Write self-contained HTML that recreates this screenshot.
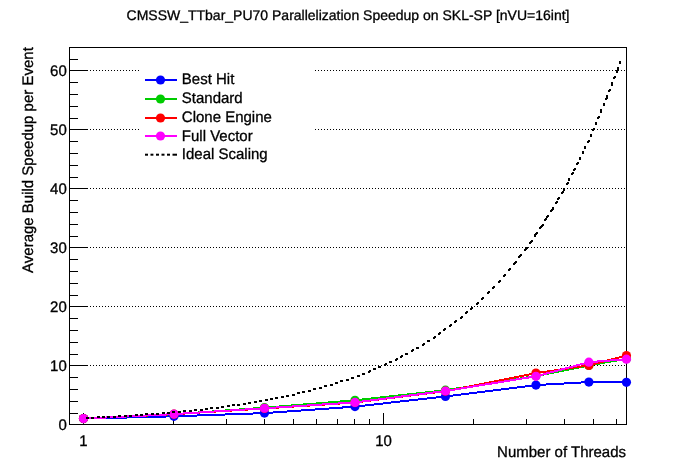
<!DOCTYPE html><html><head><meta charset="utf-8"><style>html,body{margin:0;padding:0;background:#fff;}svg{display:block;will-change:transform;}text{font-family:"Liberation Sans",Arial,sans-serif;fill:#000;text-rendering:geometricPrecision;stroke:#000;stroke-width:0.3px;}</style></head><body>
<svg width="696" height="472" viewBox="0 0 696 472">
<rect x="0" y="0" width="696" height="472" fill="#fff"/>
<g stroke="#000" stroke-width="1" stroke-dasharray="1 2" shape-rendering="crispEdges"><line x1="69" y1="365.5" x2="626" y2="365.5"/><line x1="69" y1="306.5" x2="626" y2="306.5"/><line x1="69" y1="247.5" x2="626" y2="247.5"/><line x1="69" y1="188.5" x2="626" y2="188.5"/><line x1="69" y1="129.5" x2="626" y2="129.5"/><line x1="69" y1="70.5" x2="626" y2="70.5"/></g>
<text x="348" y="19.5" font-size="14" text-anchor="middle">CMSSW_TTbar_PU70 Parallelization Speedup on SKL-SP [nVU=16int]</text>
<rect x="69.5" y="47.5" width="557" height="377" fill="none" stroke="#000" stroke-width="1" shape-rendering="crispEdges"/>
<g stroke="#000" stroke-width="1" shape-rendering="crispEdges"><line x1="70" y1="424.5" x2="88" y2="424.5"/><line x1="70" y1="413.5" x2="78" y2="413.5"/><line x1="70" y1="401.5" x2="78" y2="401.5"/><line x1="70" y1="389.5" x2="78" y2="389.5"/><line x1="70" y1="377.5" x2="78" y2="377.5"/><line x1="70" y1="365.5" x2="88" y2="365.5"/><line x1="70" y1="354.5" x2="78" y2="354.5"/><line x1="70" y1="342.5" x2="78" y2="342.5"/><line x1="70" y1="330.5" x2="78" y2="330.5"/><line x1="70" y1="318.5" x2="78" y2="318.5"/><line x1="70" y1="306.5" x2="88" y2="306.5"/><line x1="70" y1="295.5" x2="78" y2="295.5"/><line x1="70" y1="283.5" x2="78" y2="283.5"/><line x1="70" y1="271.5" x2="78" y2="271.5"/><line x1="70" y1="259.5" x2="78" y2="259.5"/><line x1="70" y1="247.5" x2="88" y2="247.5"/><line x1="70" y1="236.5" x2="78" y2="236.5"/><line x1="70" y1="224.5" x2="78" y2="224.5"/><line x1="70" y1="212.5" x2="78" y2="212.5"/><line x1="70" y1="200.5" x2="78" y2="200.5"/><line x1="70" y1="188.5" x2="88" y2="188.5"/><line x1="70" y1="177.5" x2="78" y2="177.5"/><line x1="70" y1="165.5" x2="78" y2="165.5"/><line x1="70" y1="153.5" x2="78" y2="153.5"/><line x1="70" y1="141.5" x2="78" y2="141.5"/><line x1="70" y1="129.5" x2="88" y2="129.5"/><line x1="70" y1="118.5" x2="78" y2="118.5"/><line x1="70" y1="106.5" x2="78" y2="106.5"/><line x1="70" y1="94.5" x2="78" y2="94.5"/><line x1="70" y1="82.5" x2="78" y2="82.5"/><line x1="70" y1="70.5" x2="88" y2="70.5"/><line x1="70" y1="59.5" x2="78" y2="59.5"/><line x1="83.5" y1="424" x2="83.5" y2="413"/><line x1="173.5" y1="424" x2="173.5" y2="419"/><line x1="226.5" y1="424" x2="226.5" y2="419"/><line x1="264.5" y1="424" x2="264.5" y2="419"/><line x1="293.5" y1="424" x2="293.5" y2="419"/><line x1="316.5" y1="424" x2="316.5" y2="419"/><line x1="337.5" y1="424" x2="337.5" y2="419"/><line x1="354.5" y1="424" x2="354.5" y2="419"/><line x1="369.5" y1="424" x2="369.5" y2="419"/><line x1="383.5" y1="424" x2="383.5" y2="413"/><line x1="473.5" y1="424" x2="473.5" y2="419"/><line x1="526.5" y1="424" x2="526.5" y2="419"/><line x1="564.5" y1="424" x2="564.5" y2="419"/><line x1="593.5" y1="424" x2="593.5" y2="419"/><line x1="616.5" y1="424" x2="616.5" y2="419"/></g>
<polyline points="83.50,418.60 173.99,416.30 264.48,413.11 354.97,406.62 445.46,396.42 535.95,385.09 588.88,382.08 626.44,382.31" fill="none" stroke="#0000ff" stroke-width="2" shape-rendering="crispEdges"/>
<g fill="#0000ff"><circle cx="83.50" cy="418.60" r="4.6"/><circle cx="173.99" cy="416.30" r="4.6"/><circle cx="264.48" cy="413.11" r="4.6"/><circle cx="354.97" cy="406.62" r="4.6"/><circle cx="445.46" cy="396.42" r="4.6"/><circle cx="535.95" cy="385.09" r="4.6"/><circle cx="588.88" cy="382.08" r="4.6"/><circle cx="626.44" cy="382.31" r="4.6"/></g>
<polyline points="83.50,418.60 173.99,414.23 264.48,407.69 354.97,400.31 445.46,390.22 535.95,376.00 588.88,365.50 626.44,358.71" fill="none" stroke="#00cc00" stroke-width="2" shape-rendering="crispEdges"/>
<g fill="#00cc00"><circle cx="83.50" cy="418.60" r="4.6"/><circle cx="173.99" cy="414.23" r="4.6"/><circle cx="264.48" cy="407.69" r="4.6"/><circle cx="354.97" cy="400.31" r="4.6"/><circle cx="445.46" cy="390.22" r="4.6"/><circle cx="535.95" cy="376.00" r="4.6"/><circle cx="588.88" cy="365.50" r="4.6"/><circle cx="626.44" cy="358.71" r="4.6"/></g>
<polyline points="83.50,418.60 173.99,414.18 264.48,408.45 354.97,402.55 445.46,391.17 535.95,373.11 588.88,365.38 626.44,355.59" fill="none" stroke="#ff0000" stroke-width="2" shape-rendering="crispEdges"/>
<g fill="#ff0000"><circle cx="83.50" cy="418.60" r="4.6"/><circle cx="173.99" cy="414.18" r="4.6"/><circle cx="264.48" cy="408.45" r="4.6"/><circle cx="354.97" cy="402.55" r="4.6"/><circle cx="445.46" cy="391.17" r="4.6"/><circle cx="535.95" cy="373.11" r="4.6"/><circle cx="588.88" cy="365.38" r="4.6"/><circle cx="626.44" cy="355.59" r="4.6"/></g>
<polyline points="83.50,418.60 173.99,414.12 264.48,408.27 354.97,402.38 445.46,390.99 535.95,376.30 588.88,362.20 626.44,359.19" fill="none" stroke="#ff00ff" stroke-width="2" shape-rendering="crispEdges"/>
<g fill="#ff00ff"><circle cx="83.50" cy="418.60" r="4.6"/><circle cx="173.99" cy="414.12" r="4.6"/><circle cx="264.48" cy="408.27" r="4.6"/><circle cx="354.97" cy="402.38" r="4.6"/><circle cx="445.46" cy="390.99" r="4.6"/><circle cx="535.95" cy="376.30" r="4.6"/><circle cx="588.88" cy="362.20" r="4.6"/><circle cx="626.44" cy="359.19" r="4.6"/></g>
<path d="M97 416h3v1h-3zM102 416h3v1h-3zM107 416h3v1h-3zM113 416h3v1h-3zM118 416h3v1h-3zM124 416h3v1h-3zM129 416h3v1h-3zM400 357h2v1h-2zM529 242h3v1h-3zM552 207h2v1h-2zM600 109h2v1h-2zM466 311h2v1h-2zM313 389h3v1h-3zM541 225h3v1h-3zM568 179h2v1h-2zM172 411h3v1h-3zM178 411h3v1h-3zM183 411h3v1h-3zM189 411h3v1h-3zM412 349h2v1h-2zM455 320h2v1h-2zM135 414h3v1h-3zM140 414h3v1h-3zM145 414h3v1h-3zM151 414h3v1h-3zM156 414h3v1h-3zM488 291h2v1h-2zM552 208h2v1h-2zM86 418h3v1h-3zM91 418h3v1h-3zM118 415h3v1h-3zM124 415h3v1h-3zM129 415h3v1h-3zM135 415h3v1h-3zM140 415h3v1h-3zM438 334h2v1h-2zM593 128h2v1h-2zM145 413h3v1h-3zM151 413h3v1h-3zM156 413h3v1h-3zM162 413h3v1h-3zM167 413h3v1h-3zM270 398h3v1h-3zM275 398h3v1h-3zM492 288h2v1h-2zM595 124h2v1h-2zM460 317h3v1h-3zM617 67h2v1h-2zM514 262h3v1h-3zM449 326h2v1h-2zM221 406h3v1h-3zM227 406h3v1h-3zM608 90h3v1h-3zM324 385h3v1h-3zM330 385h3v1h-3zM297 392h3v1h-3zM302 392h3v1h-3zM539 228h2v1h-2zM509 268h2v1h-2zM389 361h3v1h-3zM613 78h2v1h-2zM566 183h3v1h-3zM422 344h3v1h-3zM579 157h2v1h-2zM254 401h3v1h-3zM259 401h3v1h-3zM603 105h2v1h-2zM477 302h2v1h-2zM86 417h3v1h-3zM91 417h3v1h-3zM97 417h3v1h-3zM102 417h3v1h-3zM107 417h3v1h-3zM113 417h3v1h-3zM308 390h3v1h-3zM504 274h2v1h-2zM162 412h3v1h-3zM167 412h3v1h-3zM172 412h3v1h-3zM178 412h3v1h-3zM616 71h2v1h-2zM481 299h2v1h-2zM243 403h3v1h-3zM248 403h3v1h-3zM395 359h3v1h-3zM470 308h3v1h-3zM503 275h3v1h-3zM563 190h2v1h-2zM520 254h2v1h-2zM357 376h3v1h-3zM576 164h2v1h-2zM400 356h3v1h-3zM600 112h2v1h-2zM313 388h3v1h-3zM319 388h3v1h-3zM568 178h2v1h-2zM183 410h3v1h-3zM189 410h3v1h-3zM194 410h3v1h-3zM200 410h3v1h-3zM434 336h2v1h-2zM544 220h2v1h-2zM498 281h3v1h-3zM539 227h3v1h-3zM205 408h3v1h-3zM210 408h3v1h-3zM216 408h3v1h-3zM438 333h3v1h-3zM550 210h3v1h-3zM595 123h2v1h-2zM275 397h3v1h-3zM281 397h3v1h-3zM492 287h3v1h-3zM194 409h3v1h-3zM200 409h3v1h-3zM205 409h3v1h-3zM461 316h2v1h-2zM619 62h2v1h-2zM362 374h3v1h-3zM449 325h3v1h-3zM515 261h2v1h-2zM405 354h3v1h-3zM227 405h3v1h-3zM232 405h3v1h-3zM237 405h3v1h-3zM427 341h3v1h-3zM587 141h3v1h-3zM609 89h2v1h-2zM302 391h3v1h-3zM308 391h3v1h-3zM340 380h3v1h-3zM346 380h3v1h-3zM487 293h2v1h-2zM587 142h2v1h-2zM603 103h2v1h-2zM534 234h3v1h-3zM232 404h3v1h-3zM237 404h3v1h-3zM243 404h3v1h-3zM567 182h2v1h-2zM546 217h2v1h-2zM592 130h2v1h-2zM259 400h3v1h-3zM265 400h3v1h-3zM603 104h2v1h-2zM351 377h3v1h-3zM571 174h2v1h-2zM563 188h2v1h-2zM481 298h3v1h-3zM351 378h3v1h-3zM616 70h2v1h-2zM265 399h3v1h-3zM270 399h3v1h-3zM530 241h3v1h-3zM563 189h2v1h-2zM286 395h3v1h-3zM292 395h3v1h-3zM576 163h3v1h-3zM368 372h2v1h-2zM518 257h2v1h-2zM542 224h2v1h-2zM600 111h2v1h-2zM401 355h2v1h-2zM611 85h2v1h-2zM465 313h2v1h-2zM499 280h2v1h-2zM572 172h2v1h-2zM411 351h2v1h-2zM340 381h3v1h-3zM210 407h3v1h-3zM216 407h3v1h-3zM221 407h3v1h-3zM551 209h3v1h-3zM582 152h2v1h-2zM297 393h3v1h-3zM619 61h2v1h-2zM362 373h3v1h-3zM561 192h3v1h-3zM526 247h2v1h-2zM433 338h2v1h-2zM378 367h3v1h-3zM487 292h3v1h-3zM508 270h2v1h-2zM555 202h3v1h-3zM346 379h3v1h-3zM535 233h3v1h-3zM557 198h3v1h-3zM614 76h2v1h-2zM546 216h3v1h-3zM579 159h2v1h-2zM281 396h3v1h-3zM286 396h3v1h-3zM592 129h3v1h-3zM571 173h3v1h-3zM503 276h2v1h-2zM471 307h2v1h-2zM606 95h2v1h-2zM357 375h3v1h-3zM531 240h2v1h-2zM476 304h2v1h-2zM335 382h3v1h-3zM389 362h3v1h-3zM611 83h2v1h-2zM368 371h3v1h-3zM518 256h3v1h-3zM292 394h3v1h-3zM577 162h2v1h-2zM600 110h2v1h-2zM335 383h3v1h-3zM590 136h2v1h-2zM611 84h2v1h-2zM616 72h2v1h-2zM454 321h3v1h-3zM416 348h3v1h-3zM582 151h2v1h-2zM427 340h3v1h-3zM529 243h2v1h-2zM373 369h3v1h-3zM513 263h3v1h-3zM540 226h3v1h-3zM573 169h3v1h-3zM324 386h3v1h-3zM433 337h3v1h-3zM378 366h3v1h-3zM498 282h2v1h-2zM558 197h2v1h-2zM534 236h2v1h-2zM566 184h2v1h-2zM579 158h2v1h-2zM544 219h3v1h-3zM482 297h2v1h-2zM330 384h3v1h-3zM384 364h3v1h-3zM611 82h2v1h-2zM248 402h3v1h-3zM254 402h3v1h-3zM476 303h3v1h-3zM465 312h3v1h-3zM369 370h2v1h-2zM590 135h2v1h-2zM411 350h3v1h-3zM444 328h2v1h-2zM605 98h3v1h-3zM470 309h2v1h-2zM319 387h3v1h-3zM460 318h2v1h-2zM416 347h3v1h-3zM561 193h2v1h-2zM550 211h2v1h-2zM373 368h3v1h-3zM619 63h2v1h-2zM574 168h2v1h-2zM508 269h3v1h-3zM598 116h2v1h-2zM525 248h3v1h-3zM534 235h2v1h-2zM582 153h2v1h-2zM545 218h2v1h-2zM524 249h3v1h-3zM584 146h2v1h-2zM385 363h2v1h-2zM519 255h3v1h-3zM590 134h2v1h-2zM606 97h2v1h-2zM454 322h2v1h-2zM613 77h3v1h-3zM423 343h2v1h-2zM513 264h2v1h-2zM557 199h2v1h-2zM396 358h2v1h-2zM573 170h2v1h-2zM555 203h2v1h-2zM584 148h2v1h-2zM595 122h2v1h-2zM493 286h2v1h-2zM450 324h2v1h-2zM405 353h3v1h-3zM443 330h2v1h-2zM384 365h2v1h-2zM524 250h2v1h-2zM608 91h2v1h-2zM617 69h2v1h-2zM597 118h2v1h-2zM584 147h2v1h-2zM395 360h2v1h-2zM605 99h2v1h-2zM562 191h2v1h-2zM439 332h2v1h-2zM588 140h2v1h-2zM443 329h3v1h-3zM568 180h2v1h-2zM547 215h2v1h-2zM617 68h2v1h-2zM536 232h2v1h-2zM597 117h3v1h-3zM556 201h2v1h-2zM422 345h2v1h-2zM606 96h2v1h-2z" fill="#000" shape-rendering="crispEdges"/>
<rect x="139" y="70" width="175" height="95" fill="#fff"/>
<line x1="145" y1="80" x2="177" y2="80" stroke="#0000ff" stroke-width="2"/>
<circle cx="160.5" cy="80" r="4.6" fill="#0000ff"/>
<text transform="translate(181.8,83.8) scale(1,1.02)" font-size="15">Best Hit</text>
<line x1="145" y1="99" x2="177" y2="99" stroke="#00cc00" stroke-width="2"/>
<circle cx="160.5" cy="99" r="4.6" fill="#00cc00"/>
<text transform="translate(181.8,102.7) scale(1,1.02)" font-size="15">Standard</text>
<line x1="145" y1="118" x2="177" y2="118" stroke="#ff0000" stroke-width="2"/>
<circle cx="160.5" cy="118" r="4.6" fill="#ff0000"/>
<text transform="translate(181.8,121.6) scale(1,1.02)" font-size="15">Clone Engine</text>
<line x1="145" y1="136" x2="177" y2="136" stroke="#ff00ff" stroke-width="2"/>
<circle cx="160.5" cy="136" r="4.6" fill="#ff00ff"/>
<text transform="translate(181.8,140.5) scale(1,1.02)" font-size="15">Full Vector</text>
<g fill="#000"><rect x="145" y="153.7" width="3" height="2"/><rect x="150.5" y="153.7" width="2.9000000000000057" height="2"/><rect x="156" y="153.7" width="3" height="2"/><rect x="161.5" y="153.7" width="3.0" height="2"/><rect x="167" y="153.7" width="3" height="2"/><rect x="172.5" y="153.7" width="4.5" height="2"/></g>
<text transform="translate(181.8,159.4) scale(1,1.02)" font-size="15">Ideal Scaling</text>
<text transform="translate(66.8,430.1) scale(1,1.02)" font-size="15" text-anchor="end">0</text>
<text transform="translate(66.8,371.1) scale(1,1.02)" font-size="15" text-anchor="end">10</text>
<text transform="translate(66.8,312.1) scale(1,1.02)" font-size="15" text-anchor="end">20</text>
<text transform="translate(66.8,253.1) scale(1,1.02)" font-size="15" text-anchor="end">30</text>
<text transform="translate(66.8,194.1) scale(1,1.02)" font-size="15" text-anchor="end">40</text>
<text transform="translate(66.8,135.1) scale(1,1.02)" font-size="15" text-anchor="end">50</text>
<text transform="translate(66.8,76.1) scale(1,1.02)" font-size="15" text-anchor="end">60</text>
<text transform="translate(83.5,445.7) scale(1,1.02)" font-size="15" text-anchor="middle">1</text>
<text transform="translate(383.6,445.7) scale(1,1.02)" font-size="15" text-anchor="middle">10</text>
<text transform="translate(626,457) scale(1,1.02)" font-size="15" text-anchor="end">Number of Threads</text>
<text transform="translate(32.6,47.2) rotate(-90) scale(1,1.02)" font-size="15" text-anchor="end">Average Build Speedup per Event</text>
</svg></body></html>
